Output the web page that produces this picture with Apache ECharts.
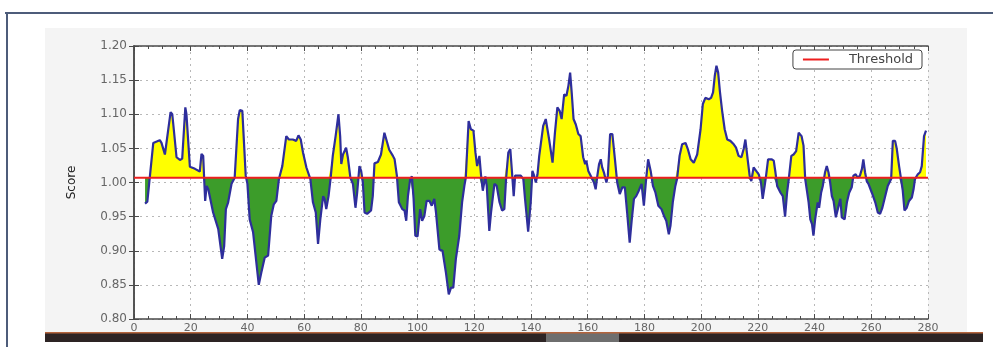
<!DOCTYPE html>
<html>
<head>
<meta charset="utf-8">
<script src="https://cdn.jsdelivr.net/npm/echarts@6/dist/echarts.min.js"></script>
<style>
html,body{margin:0;padding:0;background:#fff;}
#chart{width:993px;height:347px;}
</style>
</head>
<body>
<div id="chart"></div>
<script>
const threshold = 1.007;
const xTicks = [0, 20, 40, 60, 80, 100, 120, 140, 160, 180, 200, 220, 240, 260, 280];
const yTicks = ['0.80','0.85','0.90','0.95','1.00','1.05','1.10','1.15','1.20'];

const positions = [
3.9,4.7,6.8,8.0,9.1,9.7,10.9,12.9,13.5,15.0,16.2,17.0,18.1,18.5,19.7,21.5,23.2,23.8,24.4,24.8,
25.1,25.6,26.2,27.9,29.7,31.1,31.8,32.4,33.2,34.4,34.7,35.5,36.7,37.3,38.2,39.4,40.0,40.8,42.0,44.0,
44.9,46.1,47.3,48.4,49.3,50.2,51.1,52.3,53.7,54.6,56.0,57.2,58.0,58.8,59.6,60.8,62.2,63.1,64.1,64.9,
65.7,66.7,67.2,67.8,68.6,69.3,70.1,71.1,72.1,72.7,73.1,73.7,74.8,75.4,76.3,77.2,78.1,78.7,79.5,80.1,
80.7,81.3,82.2,83.6,84.2,84.8,86.0,87.1,88.3,88.9,90.0,91.3,91.9,92.7,93.4,94.6,95.4,96.0,96.6,97.4,
98.0,98.6,99.2,100.0,100.9,101.6,102.4,103.2,104.2,105.0,105.9,106.5,107.7,108.8,110.0,111.0,111.8,112.6,113.5,114.7,
115.7,116.5,117.0,118.0,118.8,119.7,120.4,121.0,121.8,122.4,123.0,123.9,124.4,125.3,125.9,127.1,127.9,128.9,129.8,130.6,
131.2,132.0,132.7,133.3,133.9,134.4,135.3,136.4,137.3,137.9,139.0,139.9,140.5,141.1,141.7,142.3,142.9,144.3,145.2,146.4,
147.6,148.4,149.3,150.1,150.8,151.7,152.5,153.2,153.8,154.4,155.0,155.8,156.7,157.5,158.4,159.1,159.5,160.2,160.7,161.4,
162.2,162.8,163.4,164.0,164.6,165.1,165.7,166.6,167.1,167.9,168.7,169.6,170.4,171.3,172.2,173.1,173.9,174.8,175.5,176.3,
177.1,178.0,179.0,179.8,180.6,181.3,182.2,183.0,183.9,184.9,186.0,186.9,187.7,188.6,189.2,190.0,190.9,191.5,192.4,193.3,
194.5,195.3,196.3,197.4,198.6,199.8,200.6,201.5,202.7,203.5,204.2,204.8,205.4,206.0,206.6,207.4,208.3,209.2,210.3,211.5,
212.3,213.2,214.2,215.0,215.6,216.4,217.1,217.7,218.5,219.4,220.3,221.1,221.7,222.4,222.9,223.6,224.8,225.6,226.2,226.8,
228.0,228.8,229.6,230.3,230.9,231.8,232.6,233.5,234.4,235.4,236.1,236.7,237.3,237.9,238.5,239.1,239.6,240.2,241.1,241.6,
242.3,242.9,243.7,244.3,244.9,245.5,246.1,246.7,247.5,248.2,249.1,249.6,250.6,251.4,252.2,253.1,253.7,254.5,255.2,256.0,
256.7,257.2,257.8,258.4,259.0,260.2,261.4,262.3,263.1,263.9,264.9,265.8,266.4,267.0,267.6,268.4,269.0,269.8,270.5,271.1,
271.7,272.5,273.3,274.3,274.9,275.4,276.4,277.2,277.8,278.6,279.3
];
const scores = [
0.969,0.972,1.058,1.060,1.062,1.058,1.041,1.103,1.100,1.037,1.033,1.035,1.110,1.100,1.023,1.020,1.016,1.042,1.039,1.000,
0.973,0.995,0.990,0.956,0.932,0.888,0.907,0.961,0.971,0.998,0.997,1.007,1.093,1.106,1.105,1.010,0.998,0.946,0.927,0.850,
0.868,0.890,0.893,0.951,0.968,0.973,1.005,1.024,1.068,1.063,1.063,1.061,1.069,1.063,1.044,1.022,1.005,0.971,0.956,0.910,
0.946,0.980,0.976,0.961,0.980,1.005,1.039,1.068,1.100,1.068,1.027,1.041,1.051,1.037,1.007,0.998,0.963,0.985,1.024,1.017,
1.000,0.956,0.954,0.959,0.980,1.028,1.030,1.041,1.073,1.071,1.048,1.039,1.034,1.010,0.971,0.961,0.959,0.944,0.980,1.005,
1.009,0.976,0.922,0.921,0.961,0.944,0.951,0.973,0.973,0.966,0.976,0.956,0.902,0.900,0.868,0.836,0.846,0.846,0.888,0.922,
0.971,0.995,1.007,1.090,1.078,1.076,1.044,1.024,1.039,1.010,0.988,1.009,0.995,0.929,0.956,0.998,0.995,0.971,0.959,0.961,
1.005,1.044,1.049,1.015,0.980,1.010,1.010,1.010,1.005,0.976,0.928,0.971,1.017,1.010,1.000,1.012,1.039,1.083,1.093,1.063,
1.029,1.071,1.110,1.105,1.093,1.129,1.127,1.142,1.161,1.129,1.093,1.085,1.071,1.068,1.037,1.027,1.032,1.017,1.015,1.007,
1.000,0.990,1.010,1.027,1.034,1.022,1.015,1.000,1.010,1.071,1.071,1.034,1.000,0.983,0.993,0.993,0.956,0.912,0.944,0.976,
0.980,0.988,0.998,0.966,1.005,1.034,1.017,0.995,0.985,0.966,0.961,0.951,0.944,0.924,0.937,0.971,0.995,1.005,1.039,1.056,
1.058,1.049,1.034,1.029,1.041,1.078,1.115,1.124,1.122,1.124,1.132,1.156,1.171,1.161,1.134,1.105,1.078,1.063,1.061,1.056,
1.051,1.039,1.037,1.049,1.063,1.034,1.010,1.002,1.022,1.017,1.012,1.000,0.976,0.995,1.010,1.034,1.034,1.032,1.015,0.995,
0.985,0.980,0.950,0.985,1.005,1.039,1.041,1.046,1.073,1.068,1.054,1.005,0.988,0.971,0.946,0.939,0.922,0.946,0.971,0.963,
0.985,0.995,1.015,1.024,1.015,1.000,0.980,0.973,0.949,0.961,0.976,0.949,0.946,0.971,0.985,0.993,1.010,1.012,1.007,1.010,
1.020,1.034,1.015,1.002,0.998,0.985,0.971,0.956,0.954,0.963,0.980,0.995,0.993,1.005,1.061,1.061,1.049,1.024,1.005,0.988,
0.959,0.963,0.973,0.978,0.990,1.005,1.012,1.015,1.024,1.068,1.076
];

// Line data, plus the same with threshold crossings inserted for the two fills
const seriesData = positions.map((x, i) => [x, scores[i]]);
const withCross = [];
for (let i = 0; i < seriesData.length; i++) {
  const [x1, y1] = seriesData[i];
  if (i > 0) {
    const [x0, y0] = seriesData[i - 1];
    if ((y0 - threshold) * (y1 - threshold) < 0) {
      const t = (threshold - y0) / (y1 - y0);
      withCross.push([x0 + t * (x1 - x0), threshold]);
    }
  }
  withCross.push([x1, y1]);
}
const aboveData = withCross.map(([x, y]) => [x, Math.max(y, threshold)]);
const belowData = withCross.map(([x, y]) => [x, Math.min(y, threshold)]);
const thresholdData = [[xTicks[0], threshold], [xTicks[xTicks.length - 1], threshold]];

const chart = echarts.init(document.getElementById('chart'), null, {renderer: 'canvas'});
const axisCol = '#4a4a4a';
const labelCol = '#666';
const font = 'DejaVu Sans';

chart.setOption({
  animation: false,
  backgroundColor: 'transparent',
  graphic: [
    {type: 'rect', z: -100, shape: {x: 45, y: 28, width: 922, height: 305}, style: {fill: '#f4f4f4'}},
    {type: 'rect', z: 10, shape: {x: 45, y: 333, width: 938, height: 9}, style: {fill: '#2d2424'}},
    {type: 'rect', z: 11, shape: {x: 546, y: 333, width: 73, height: 9}, style: {fill: '#6e6e6e'}},
    {type: 'rect', z: 12, shape: {x: 45, y: 332, width: 938, height: 1.5}, style: {fill: '#b4643c'}},
    {type: 'line', z: 12, shape: {x1: 5, y1: 13, x2: 993, y2: 13}, style: {stroke: '#4d5c7a', lineWidth: 2}},
    {type: 'line', z: 12, shape: {x1: 7, y1: 12, x2: 7, y2: 347}, style: {stroke: '#4d5c7a', lineWidth: 2}}
  ],
  grid: {left: 134, right: 65, top: 46, bottom: 28, show: true, backgroundColor: '#ffffff', borderWidth: 0},
  legend: {
    right: 71, top: 50,
    data: [{name: 'Threshold', icon: 'rect'}],
    itemWidth: 26, itemHeight: 2,
    backgroundColor: '#fff',
    borderColor: '#444', borderWidth: 1, borderRadius: 3,
    padding: [3, 9, 3, 10],
    textStyle: {fontFamily: font, fontSize: 13, color: '#444', padding: [0, 0, 0, 15]}
  },
  xAxis: [
    {
      type: 'value', min: xTicks[0], max: xTicks[xTicks.length - 1], interval: 20,
      axisLine: {lineStyle: {color: axisCol, width: 1.5}},
      axisTick: {inside: true, length: 5, lineStyle: {color: axisCol}},
      minorTick: {show: true, splitNumber: 4, length: 3, lineStyle: {color: axisCol}},
      axisLabel: {color: labelCol, fontFamily: font, fontSize: 11, margin: 4},
      splitLine: {show: true, lineStyle: {color: '#b8b8b8', type: [2, 4], width: 1}}
    },
    {
      type: 'value', position: 'top', min: xTicks[0], max: xTicks[xTicks.length - 1], interval: 20,
      axisLine: {show: true, lineStyle: {color: axisCol, width: 1.5}},
      axisTick: {show: true, inside: true, length: 5, lineStyle: {color: axisCol}},
      minorTick: {show: true, splitNumber: 4, length: 3, lineStyle: {color: axisCol}},
      axisLabel: {show: false}, splitLine: {show: false}
    }
  ],
  yAxis: [
    {
      type: 'value', min: 0.8, max: 1.2, interval: 0.05,
      name: 'Score', nameLocation: 'middle', nameGap: 56, nameRotate: 90,
      nameTextStyle: {fontFamily: font, fontSize: 12, color: '#222'},
      axisLine: {show: true, lineStyle: {color: axisCol, width: 1.5}},
      axisTick: {show: true, inside: true, length: 5, lineStyle: {color: axisCol}},
      axisLabel: {color: labelCol, fontFamily: font, fontSize: 12, margin: 7,
        formatter: v => yTicks[Math.round((v - 0.8) / 0.05)] || v.toFixed(2)},
      splitLine: {show: true, lineStyle: {color: '#b8b8b8', type: [2, 4], width: 1}}
    },
    {
      type: 'value', position: 'right', min: 0.8, max: 1.2, interval: 0.05,
      axisLine: {show: true, lineStyle: {color: axisCol, width: 1.5}},
      axisTick: {show: true, inside: true, length: 5, lineStyle: {color: axisCol}},
      axisLabel: {show: false}, splitLine: {show: false}
    }
  ],
  series: [
    {
      name: 'above', type: 'line', data: aboveData, symbol: 'none', z: 2,
      lineStyle: {width: 0, opacity: 0},
      areaStyle: {origin: threshold, color: '#ffff00', opacity: 1},
      silent: true
    },
    {
      name: 'below', type: 'line', data: belowData, symbol: 'none', z: 2,
      lineStyle: {width: 0, opacity: 0},
      areaStyle: {origin: threshold, color: '#3c9c2a', opacity: 1},
      silent: true
    },
    {
      name: 'Score', type: 'line', data: seriesData, symbol: 'none', z: 3,
      lineStyle: {color: '#2e2e9c', width: 2.2},
      silent: true
    },
    {
      name: 'Threshold', type: 'line', data: thresholdData, symbol: 'none', z: 4,
      lineStyle: {color: '#ee1f1f', width: 2},
      itemStyle: {color: '#ee1f1f'},
      silent: true
    }
  ]
});
</script>
</body>
</html>
